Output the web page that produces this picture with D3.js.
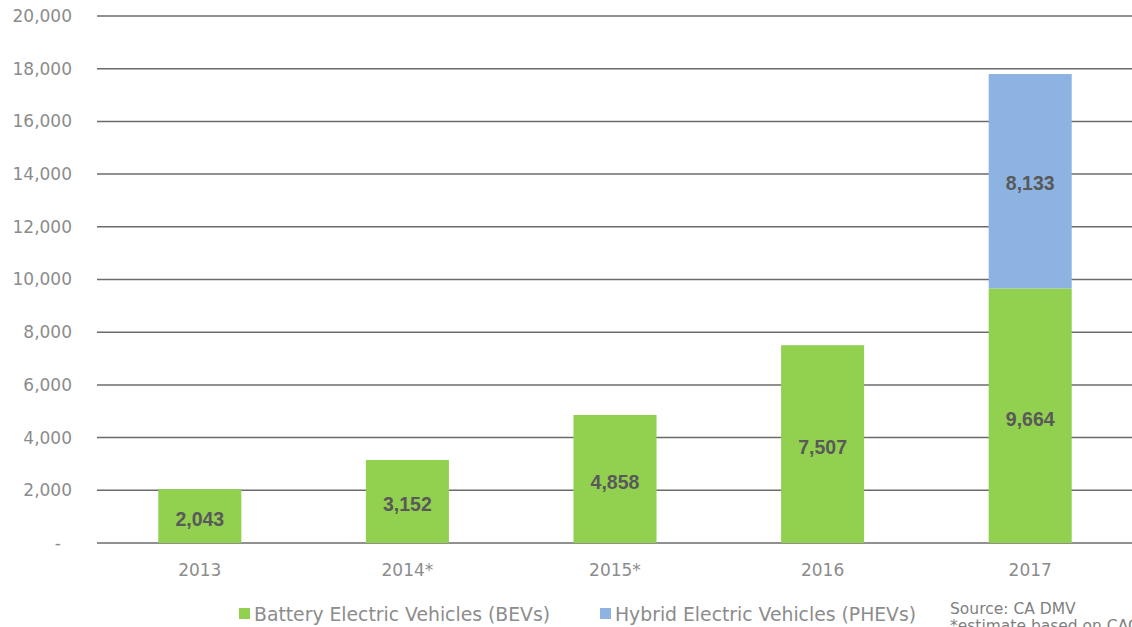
<!DOCTYPE html>
<html><head><meta charset="utf-8">
<script src="https://cdn.jsdelivr.net/npm/d3@7"></script>
<style>body{margin:0;background:#fff;overflow:hidden}</style>
</head><body>
<svg id="c" width="1132" height="627"></svg>
<script>
const categories = ["2013", "2014*", "2015*", "2016", "2017"];
const bevValues = [2043, 3152, 4858, 7507, 9664];
const phevValues = [0, 0, 0, 0, 8133];
const yTicks = [0, 2000, 4000, 6000, 8000, 10000, 12000, 14000, 16000, 18000, 20000];
const seriesNames = ["Battery Electric Vehicles (BEVs)", "Hybrid Electric Vehicles (PHEVs)"];
const seriesColors = ["#92D050", "#8DB3E2"];

const svg = d3.select("#c");
const font = "'DejaVu Sans', sans-serif";
const x = d3.scaleBand().domain(categories).range([96, 1134]).paddingInner(0.6).paddingOuter(0.3);
const y = d3.scaleLinear().domain([0, 20000]).range([543, 16]);

// gridlines
svg.append("g").selectAll("line").data(yTicks).join("line")
  .attr("x1", 97).attr("x2", 1132)
  .attr("y1", d => y(d)).attr("y2", d => y(d))
  .attr("stroke", "#6b6b6b").attr("stroke-width", 1.5);

// y axis labels
const fmt = d3.format(",");
svg.append("g").selectAll("text").data(yTicks).join("text")
  .attr("x", d => d === 0 ? 61 : 72).attr("y", d => y(d)).attr("dy", "0.35em")
  .attr("text-anchor", "end").attr("fill", "#8c8c8c")
  .attr("font-family", font).attr("font-size", 17)
  .text(d => d === 0 ? "-" : fmt(d));

const data = categories.map((c, i) => ({c, bev: bevValues[i], phev: phevValues[i]}));
const bw = x.bandwidth();

// BEV bars
svg.append("g").selectAll("rect").data(data).join("rect")
  .attr("x", d => x(d.c)).attr("width", bw)
  .attr("y", d => y(d.bev)).attr("height", d => y(0) - y(d.bev))
  .attr("fill", seriesColors[0]);
// PHEV bars
svg.append("g").selectAll("rect").data(data.filter(d => d.phev > 0)).join("rect")
  .attr("x", d => x(d.c)).attr("width", bw)
  .attr("y", d => y(d.bev + d.phev)).attr("height", d => y(d.bev) - y(d.bev + d.phev))
  .attr("fill", seriesColors[1]);

// value labels
const lab = svg.append("g").attr("font-family", "'Liberation Sans', Arial, sans-serif")
  .attr("font-weight", "bold").attr("font-size", 19.5).attr("fill", "#595959").attr("text-anchor", "middle");
lab.selectAll("text.b").data(data).join("text").attr("class", "b")
  .attr("x", d => x(d.c) + bw / 2).attr("y", d => (y(0) + y(d.bev)) / 2 + 3).attr("dy", "0.35em")
  .text(d => fmt(d.bev));
lab.selectAll("text.p").data(data.filter(d => d.phev > 0)).join("text").attr("class", "p")
  .attr("x", d => x(d.c) + bw / 2).attr("y", d => (y(d.bev) + y(d.bev + d.phev)) / 2 + 2).attr("dy", "0.35em")
  .text(d => fmt(d.phev));

// x axis labels
svg.append("g").selectAll("text").data(categories).join("text")
  .attr("x", d => x(d) + bw / 2).attr("y", 570).attr("dy", "0.35em")
  .attr("text-anchor", "middle").attr("fill", "#8c8c8c")
  .attr("font-family", font).attr("font-size", 17).text(d => d);

// legend
const legX = [239, 600];
const lg = svg.append("g");
seriesNames.forEach((n, i) => {
  lg.append("rect").attr("x", legX[i]).attr("y", 608).attr("width", 11).attr("height", 11).attr("fill", seriesColors[i]);
  lg.append("text").attr("x", legX[i] + 15).attr("y", 614).attr("dy", "0.35em")
    .attr("fill", "#8c8c8c").attr("font-family", font).attr("font-size", 18.8).text(n);
});

// source note
svg.append("text").attr("x", 950).attr("y", 609).attr("dy", "0.35em")
  .attr("fill", "#7f7f7f").attr("font-family", font).attr("font-size", 15.5).text("Source: CA DMV");
svg.append("text").attr("x", 950).attr("y", 626).attr("dy", "0.35em")
  .attr("fill", "#7f7f7f").attr("font-family", font).attr("font-size", 15.5).text("*estimate based on CAGR");
</script>
</body></html>
